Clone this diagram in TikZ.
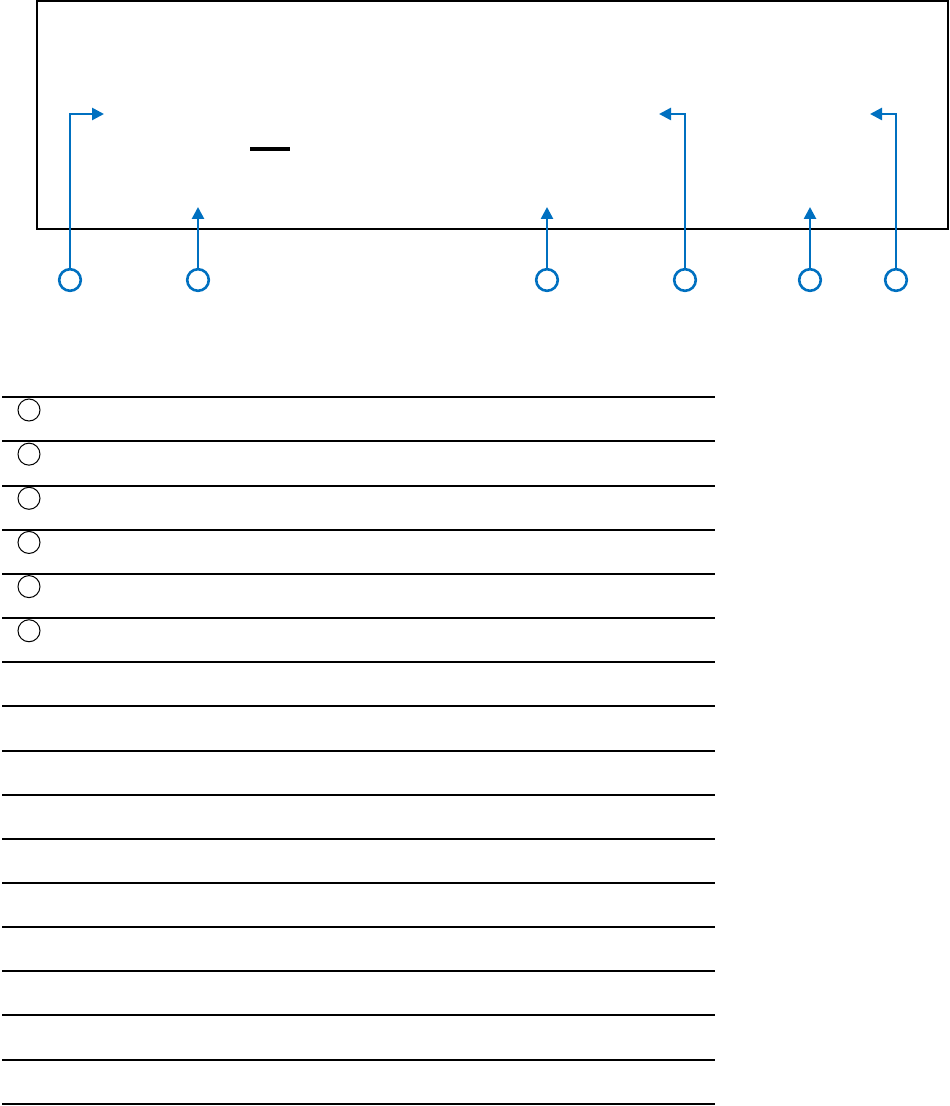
\documentclass[tikz,border=0pt]{standalone}
\usepackage{tikz}
\usetikzlibrary{arrows.meta,positioning,calc}
\definecolor{callblue}{HTML}{0070C0}

\begin{document}
\begin{tikzpicture}[
    x=0.5pt, y=-0.5pt,
    callout/.style={
      circle, draw=callblue, line width=1.3pt,
      minimum size=10.8pt, inner sep=0pt
    },
    keymark/.style={
      circle, draw=black, line width=0.5pt,
      minimum size=11pt, inner sep=0pt
    },
    pointer/.style={draw=callblue, line width=1.3pt, -{Triangle[length=6pt,width=6pt]}},
    rule line/.style={draw=black, line width=1pt}
  ]
  \useasboundingbox (0,0) rectangle (949,1106);

  % Front panel
  \draw[line width=0.8pt] (37,1) rectangle (948,229);
  \draw[line width=2pt] (250,149) -- (290,149);

  % Callout circles
  \node[callout] (c1) at (70,280) {};
  \node[callout] (c2) at (198,280) {};
  \node[callout] (c3) at (547,280) {};
  \node[callout] (c4) at (685,280) {};
  \node[callout] (c5) at (810,280) {};
  \node[callout] (c6) at (896,280) {};

  % Arrow targets
  \coordinate (t1) at (104,114);
  \coordinate (t2) at (198,207);
  \coordinate (t3) at (547,207);
  \coordinate (t4) at (659,114);
  \coordinate (t5) at (810,207);
  \coordinate (t6) at (870,114);

  \draw[pointer] (c1) |- (t1);
  \draw[pointer] (c2) -- (t2);
  \draw[pointer] (c3) -- (t3);
  \draw[pointer] (c4) |- (t4);
  \draw[pointer] (c5) -- (t5);
  \draw[pointer] (c6) |- (t6);

  % Legend table
  \foreach \i in {0,...,16} {
    \coordinate (l\i) at (2,{397.3+44.15*\i});
    \coordinate (r\i) at (715,{397.3+44.15*\i});
    \draw[rule line] (l\i) -- (r\i);
  }
  \foreach \i in {0,...,5} {
    \node[keymark] (k\i) at (29,{410+44.15*\i}) {};
  }

\end{tikzpicture}
\end{document}
